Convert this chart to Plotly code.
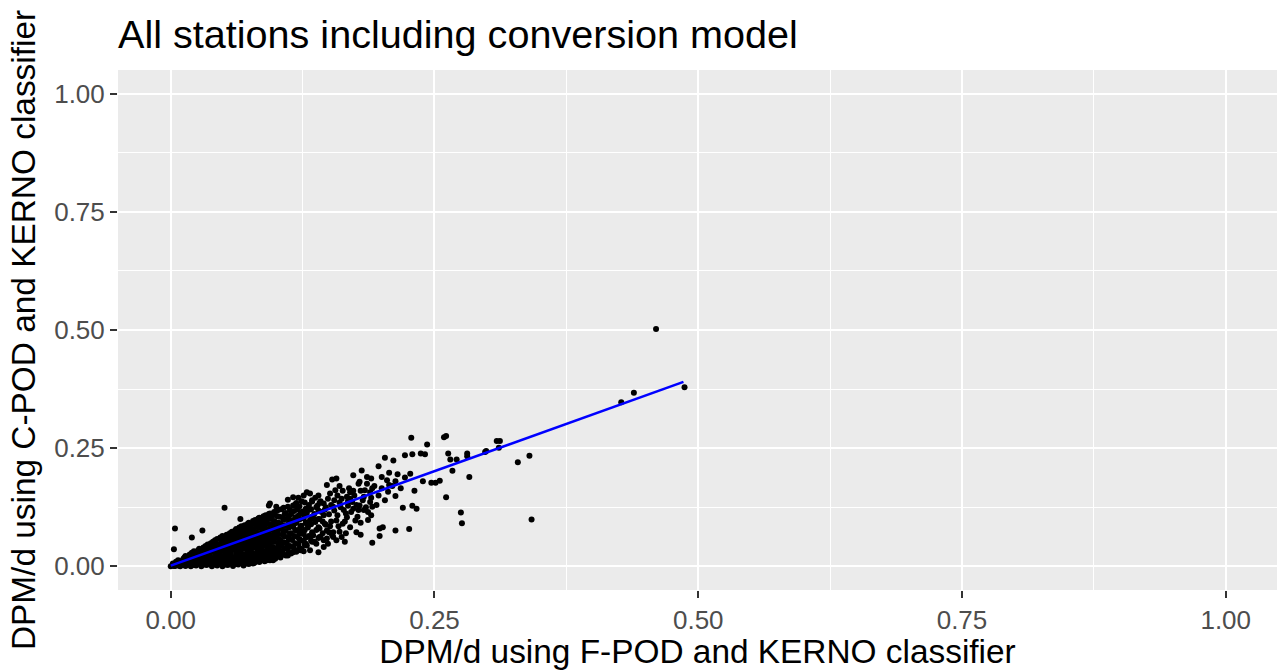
import plotly.graph_objects as go

# Daily detection-positive-minute rates (DPM/d): F-POD (x) against C-POD (y)

# Dense core of the cloud near the origin, written column by column
fpod_core = [
    0.000, 0.002,
    0.004, 0.006, 0.005,
    0.009, 0.011, 0.010, 0.012,
    0.014, 0.016, 0.015, 0.014,
    0.019, 0.021, 0.020, 0.022, 0.020,
    0.024, 0.026, 0.025, 0.024, 0.026,
    0.029, 0.031, 0.030, 0.032, 0.029, 0.031,
    0.034, 0.036, 0.035, 0.034, 0.036, 0.035,
    0.039, 0.041, 0.040, 0.042, 0.039, 0.041, 0.040,
    0.044, 0.046, 0.045, 0.044, 0.046, 0.045, 0.044,
    0.049, 0.051, 0.050, 0.052, 0.049, 0.051, 0.050, 0.049,
    0.054, 0.056, 0.055, 0.054, 0.056, 0.055, 0.054, 0.056,
    0.059, 0.061, 0.060, 0.062, 0.059, 0.061, 0.060, 0.059, 0.061,
    0.064, 0.066, 0.065, 0.064, 0.066, 0.065, 0.064, 0.066, 0.065,
    0.069, 0.071, 0.070, 0.072, 0.069, 0.071, 0.070, 0.069, 0.071, 0.070,
    0.074, 0.076, 0.075, 0.074, 0.076, 0.075, 0.074, 0.076, 0.075, 0.074,
    0.079, 0.081, 0.080, 0.082, 0.079, 0.081, 0.080, 0.079, 0.081, 0.080,
    0.084, 0.086, 0.085, 0.084, 0.086, 0.085, 0.084, 0.086, 0.085, 0.084,
    0.089, 0.091, 0.090, 0.092, 0.089, 0.091, 0.090, 0.089, 0.091, 0.090,
    0.094, 0.096, 0.095, 0.094, 0.096, 0.095, 0.094, 0.096, 0.095, 0.094,
    0.099, 0.101, 0.100, 0.102, 0.099, 0.101, 0.100, 0.099, 0.101, 0.100,
    0.104, 0.106, 0.105, 0.104, 0.106, 0.105, 0.104, 0.106, 0.105,
    0.109, 0.111, 0.110, 0.112, 0.109, 0.111, 0.110, 0.109, 0.111,
    0.114, 0.116, 0.115, 0.114, 0.116, 0.115, 0.114, 0.116,
    0.119, 0.121, 0.120, 0.122, 0.119, 0.121, 0.120, 0.119,
    0.124, 0.126, 0.125, 0.124, 0.126, 0.125, 0.124,
    0.129, 0.131, 0.130, 0.132, 0.129, 0.131,
    0.136, 0.138, 0.137, 0.136, 0.139, 0.137,
    0.144, 0.146, 0.145, 0.147,
]
cpod_core = [
    0.000, 0.003,
    0.001, 0.006, 0.010,
    0.000, 0.005, 0.011, 0.016,
    0.001, 0.008, 0.015, 0.022,
    0.000, 0.007, 0.014, 0.021, 0.029,
    0.002, 0.009, 0.017, 0.025, 0.034,
    0.000, 0.008, 0.015, 0.023, 0.031, 0.040,
    0.003, 0.011, 0.019, 0.027, 0.036, 0.046,
    0.000, 0.008, 0.016, 0.024, 0.032, 0.041, 0.052,
    0.002, 0.011, 0.019, 0.028, 0.037, 0.047, 0.058,
    0.000, 0.008, 0.017, 0.025, 0.034, 0.043, 0.053, 0.064,
    0.003, 0.012, 0.021, 0.030, 0.040, 0.050, 0.060, 0.070,
    0.001, 0.009, 0.018, 0.027, 0.036, 0.046, 0.056, 0.066, 0.076,
    0.004, 0.013, 0.022, 0.032, 0.042, 0.052, 0.062, 0.072, 0.082,
    0.002, 0.010, 0.019, 0.028, 0.038, 0.048, 0.058, 0.068, 0.078, 0.087,
    0.005, 0.014, 0.024, 0.034, 0.044, 0.054, 0.064, 0.074, 0.084, 0.092,
    0.007, 0.016, 0.026, 0.036, 0.046, 0.056, 0.066, 0.076, 0.087, 0.098,
    0.009, 0.019, 0.029, 0.039, 0.049, 0.059, 0.069, 0.080, 0.091, 0.103,
    0.011, 0.021, 0.031, 0.041, 0.051, 0.061, 0.072, 0.083, 0.095, 0.108,
    0.013, 0.024, 0.034, 0.045, 0.055, 0.066, 0.077, 0.088, 0.100, 0.112,
    0.016, 0.027, 0.038, 0.049, 0.060, 0.071, 0.082, 0.094, 0.106, 0.117,
    0.019, 0.031, 0.043, 0.055, 0.067, 0.079, 0.091, 0.104, 0.121,
    0.023, 0.036, 0.050, 0.062, 0.075, 0.088, 0.100, 0.113, 0.126,
    0.027, 0.041, 0.056, 0.070, 0.084, 0.097, 0.111, 0.129,
    0.031, 0.047, 0.062, 0.078, 0.092, 0.107, 0.121, 0.134,
    0.036, 0.053, 0.069, 0.086, 0.101, 0.116, 0.138,
    0.044, 0.064, 0.082, 0.098, 0.113, 0.130,
    0.052, 0.077, 0.094, 0.111, 0.128, 0.145,
    0.070, 0.090, 0.108, 0.125,
]

# Further station-days packed between the core columns
fpod_fill = [
    0.003, 0.002,
    0.007, 0.008, 0.007,
    0.012, 0.013, 0.012, 0.013,
    0.017, 0.018, 0.017, 0.018,
    0.022, 0.023, 0.022, 0.023, 0.022,
    0.027, 0.028, 0.027, 0.028, 0.027,
    0.032, 0.033, 0.032, 0.033, 0.032, 0.033,
    0.037, 0.038, 0.037, 0.038, 0.037, 0.038,
    0.042, 0.043, 0.042, 0.043, 0.042, 0.043, 0.042,
    0.047, 0.048, 0.047, 0.048, 0.047, 0.048, 0.047,
    0.052, 0.053, 0.052, 0.053, 0.052, 0.053, 0.052, 0.053,
    0.057, 0.058, 0.057, 0.058, 0.057, 0.058, 0.057, 0.058,
    0.062, 0.063, 0.062, 0.063, 0.062, 0.063, 0.062, 0.063, 0.062,
    0.067, 0.068, 0.067, 0.068, 0.067, 0.068, 0.067, 0.068, 0.067,
    0.072, 0.073, 0.072, 0.073, 0.072, 0.073, 0.072, 0.073, 0.072, 0.073,
    0.077, 0.078, 0.077, 0.078, 0.077, 0.078, 0.077, 0.078, 0.077, 0.078,
    0.082, 0.083, 0.082, 0.083, 0.082, 0.083, 0.082, 0.083, 0.082, 0.083,
    0.087, 0.088, 0.087, 0.088, 0.087, 0.088, 0.087, 0.088, 0.087, 0.088,
    0.092, 0.093, 0.092, 0.093, 0.092, 0.093, 0.092, 0.093, 0.092, 0.093,
    0.097, 0.098, 0.097, 0.098, 0.097, 0.098, 0.097, 0.098, 0.097, 0.098,
    0.102, 0.103, 0.102, 0.103, 0.102, 0.103, 0.102, 0.103, 0.102,
    0.107, 0.108, 0.107, 0.108, 0.107, 0.108, 0.107, 0.108, 0.107,
    0.112, 0.113, 0.112, 0.113, 0.112, 0.113, 0.112, 0.113,
    0.117, 0.118, 0.117, 0.118, 0.117, 0.118, 0.117, 0.118,
    0.122, 0.123, 0.122, 0.123, 0.122, 0.123, 0.122,
    0.127, 0.128, 0.127, 0.128, 0.127, 0.128,
    0.133, 0.134, 0.133, 0.134, 0.133, 0.134,
    0.141, 0.140, 0.141, 0.140, 0.141,
]
cpod_fill = [
    0.001, 0.006,
    0.002, 0.008, 0.013,
    0.003, 0.009, 0.014, 0.019,
    0.004, 0.011, 0.018, 0.025,
    0.003, 0.011, 0.018, 0.026, 0.032,
    0.005, 0.012, 0.020, 0.028, 0.037,
    0.004, 0.012, 0.019, 0.027, 0.035, 0.043,
    0.007, 0.015, 0.023, 0.031, 0.040, 0.049,
    0.004, 0.012, 0.020, 0.028, 0.036, 0.045, 0.055,
    0.006, 0.015, 0.023, 0.032, 0.041, 0.051, 0.061,
    0.004, 0.012, 0.021, 0.029, 0.038, 0.047, 0.057, 0.067,
    0.007, 0.016, 0.025, 0.034, 0.044, 0.054, 0.064, 0.073,
    0.005, 0.013, 0.022, 0.031, 0.041, 0.051, 0.061, 0.071, 0.079,
    0.008, 0.017, 0.027, 0.037, 0.047, 0.057, 0.067, 0.077, 0.085,
    0.006, 0.015, 0.024, 0.033, 0.043, 0.053, 0.063, 0.073, 0.083, 0.090,
    0.010, 0.019, 0.029, 0.039, 0.049, 0.059, 0.069, 0.079, 0.089, 0.096,
    0.012, 0.021, 0.031, 0.041, 0.051, 0.061, 0.071, 0.082, 0.093, 0.101,
    0.014, 0.024, 0.034, 0.044, 0.054, 0.064, 0.075, 0.086, 0.097, 0.106,
    0.016, 0.026, 0.036, 0.046, 0.056, 0.067, 0.078, 0.089, 0.102, 0.111,
    0.019, 0.030, 0.041, 0.052, 0.063, 0.074, 0.085, 0.096, 0.108, 0.115,
    0.022, 0.033, 0.045, 0.057, 0.068, 0.080, 0.092, 0.105, 0.119,
    0.025, 0.038, 0.051, 0.063, 0.075, 0.087, 0.099, 0.111, 0.124,
    0.029, 0.043, 0.057, 0.069, 0.082, 0.094, 0.106, 0.119,
    0.034, 0.049, 0.064, 0.077, 0.090, 0.104, 0.117, 0.131,
    0.039, 0.055, 0.070, 0.085, 0.099, 0.114, 0.127,
    0.045, 0.061, 0.077, 0.093, 0.108, 0.122,
    0.054, 0.072, 0.089, 0.105, 0.121, 0.137,
    0.062, 0.083, 0.100, 0.118, 0.134,
]

# Looser scatter around the core (x up to about 0.24)
fpod_spread = [
    0.004, 0.003, 0.020, 0.030, 0.051, 0.066, 0.093, 0.100, 0.094, 0.111,
    0.116, 0.129, 0.132, 0.148, 0.153, 0.156, 0.162, 0.167, 0.157, 0.173,
    0.178, 0.126, 0.151, 0.170, 0.145, 0.154, 0.164, 0.173, 0.148, 0.153,
    0.162, 0.138, 0.145, 0.119, 0.126, 0.110, 0.100, 0.091, 0.080, 0.135,
    0.167, 0.170, 0.148, 0.154, 0.175, 0.145, 0.149, 0.134, 0.132, 0.123,
    0.116, 0.104, 0.111, 0.126, 0.119, 0.129, 0.078, 0.088, 0.097, 0.181,
    0.186, 0.190, 0.179, 0.186, 0.191, 0.189, 0.184, 0.183, 0.170, 0.173,
    0.172, 0.189, 0.191, 0.187, 0.190, 0.179, 0.178, 0.183, 0.166, 0.158,
    0.180, 0.157, 0.163, 0.160, 0.166, 0.176, 0.154, 0.142, 0.140, 0.132,
    0.200, 0.205, 0.207, 0.213, 0.197, 0.207, 0.203, 0.211, 0.222, 0.229,
    0.237, 0.241, 0.227, 0.222, 0.231, 0.213, 0.220, 0.229, 0.233, 0.213,
    0.226, 0.198, 0.201, 0.198, 0.191, 0.180, 0.160, 0.140, 0.143, 0.150,
    0.152, 0.160, 0.147, 0.155, 0.168, 0.141, 0.140,
]
cpod_spread = [
    0.080, 0.036, 0.061, 0.076, 0.124, 0.100, 0.129, 0.126, 0.133, 0.141,
    0.146, 0.157, 0.154, 0.172, 0.184, 0.161, 0.143, 0.147, 0.186, 0.193,
    0.175, 0.150, 0.154, 0.143, 0.133, 0.126, 0.119, 0.122, 0.059, 0.066,
    0.062, 0.048, 0.041, 0.034, 0.032, 0.041, 0.023, 0.013, 0.009, 0.066,
    0.104, 0.083, 0.076, 0.072, 0.097, 0.055, 0.048, 0.052, 0.034, 0.034,
    0.030, 0.030, 0.023, 0.069, 0.076, 0.090, 0.006, 0.016, 0.013, 0.203,
    0.189, 0.186, 0.179, 0.175, 0.165, 0.157, 0.161, 0.147, 0.157, 0.160,
    0.136, 0.136, 0.126, 0.115, 0.108, 0.129, 0.119, 0.119, 0.112, 0.108,
    0.092, 0.097, 0.090, 0.073, 0.070, 0.072, 0.062, 0.062, 0.030, 0.062,
    0.189, 0.182, 0.172, 0.180, 0.212, 0.198, 0.230, 0.224, 0.235, 0.237,
    0.239, 0.237, 0.196, 0.188, 0.160, 0.149, 0.124, 0.128, 0.122, 0.076,
    0.079, 0.080, 0.083, 0.064, 0.050, 0.067, 0.170, 0.100, 0.115, 0.110,
    0.095, 0.135, 0.088, 0.140, 0.128, 0.080, 0.150,
]

# Busier band between x = 0.12 and 0.22
fpod_mid = [
    0.121, 0.124, 0.127, 0.131, 0.134, 0.136, 0.138, 0.142, 0.144, 0.146,
    0.149, 0.151, 0.152, 0.155, 0.158, 0.159, 0.161, 0.163, 0.165, 0.168,
    0.169, 0.171, 0.174, 0.176, 0.177, 0.180, 0.182, 0.185, 0.187, 0.190,
    0.193, 0.195, 0.197, 0.200, 0.203, 0.206, 0.210, 0.215, 0.218, 0.140,
    0.150, 0.157, 0.165, 0.128, 0.122,
]
cpod_mid = [
    0.145, 0.112, 0.135, 0.120, 0.140, 0.100, 0.125, 0.138, 0.095, 0.120,
    0.143, 0.085, 0.130, 0.118, 0.150, 0.085, 0.125, 0.160, 0.095, 0.138,
    0.165, 0.115, 0.150, 0.130, 0.105, 0.160, 0.140, 0.125, 0.098, 0.145,
    0.170, 0.130, 0.150, 0.165, 0.140, 0.158, 0.170, 0.195, 0.165, 0.060,
    0.072, 0.055, 0.052, 0.048, 0.058,
]

# Isolated high-rate station-days
fpod_outer = [
    0.228, 0.259, 0.261, 0.243, 0.309, 0.312, 0.311, 0.298, 0.299, 0.281,
    0.281, 0.263, 0.340, 0.329, 0.265, 0.271, 0.267, 0.283, 0.239, 0.247,
    0.251, 0.255, 0.261, 0.275, 0.276, 0.342, 0.427, 0.439, 0.460, 0.487,
]
cpod_outer = [
    0.272, 0.273, 0.276, 0.258, 0.265, 0.265, 0.251, 0.242, 0.244, 0.239,
    0.233, 0.239, 0.234, 0.220, 0.226, 0.226, 0.202, 0.189, 0.180, 0.177,
    0.177, 0.181, 0.146, 0.114, 0.091, 0.099, 0.347, 0.367, 0.502, 0.379,
]

# Linear conversion model (C-POD = intercept + slope * F-POD) over the data range
fit_intercept = 0.0015
fit_slope = 0.800
fit_range = [0.0, 0.486]

# Axis breaks
tick_values = [0.0, 0.25, 0.5, 0.75, 1.0]
tick_labels = ["0.00", "0.25", "0.50", "0.75", "1.00"]
minor_breaks = [0.125, 0.375, 0.625, 0.875]

fpod = fpod_core + fpod_fill + fpod_spread + fpod_mid + fpod_outer
cpod = cpod_core + cpod_fill + cpod_spread + cpod_mid + cpod_outer
assert len(fpod) == len(cpod)

fit_y = [fit_intercept + fit_slope * v for v in fit_range]

FONT = "Liberation Sans, Arial, Helvetica, sans-serif"

fig = go.Figure()
fig.add_trace(go.Scatter(
    x=fpod, y=cpod, mode="markers",
    marker=dict(color="black", size=6, line=dict(width=0)),
    hoverinfo="skip",
))
fig.add_trace(go.Scatter(
    x=fit_range, y=fit_y, mode="lines",
    line=dict(color="#0000FF", width=2.6),
    hoverinfo="skip",
))

axis_style = dict(
    showgrid=True, gridcolor="white", gridwidth=1.8,
    zeroline=False, showline=False,
    ticks="outside", ticklen=7, tickwidth=1.5, tickcolor="#333333",
    tickfont=dict(family=FONT, size=26, color="#4D4D4D"),
    tickmode="array", tickvals=tick_values, ticktext=tick_labels,
    minor=dict(tickvals=minor_breaks, showgrid=True, gridcolor="white",
               gridwidth=0.9, ticks=""),
)

fig.update_layout(
    width=1277, height=670,
    margin=dict(l=118, r=0, t=70, b=80),
    paper_bgcolor="white", plot_bgcolor="#EBEBEB",
    showlegend=False,
    font=dict(family=FONT, color="black"),
    title=dict(
        text="All stations including conversion model",
        font=dict(family=FONT, size=39.6, color="black"),
        xref="paper", x=0, xanchor="left",
        yref="container", y=1 - 34 / 670, yanchor="middle",
        pad=dict(l=0, r=0, t=0, b=0),
    ),
    xaxis=dict(
        range=[-0.05, 1.0486],
        title=dict(text="DPM/d using F-POD and KERNO classifier",
                   font=dict(family=FONT, size=33.4, color="black"), standoff=8),
        **axis_style,
    ),
    yaxis=dict(
        range=[-0.05, 1.05],
        title=dict(text="DPM/d using C-POD and KERNO classifier",
                   font=dict(family=FONT, size=33.4, color="black"), standoff=8),
        **axis_style,
    ),
)

fig.write_html("out.html")
